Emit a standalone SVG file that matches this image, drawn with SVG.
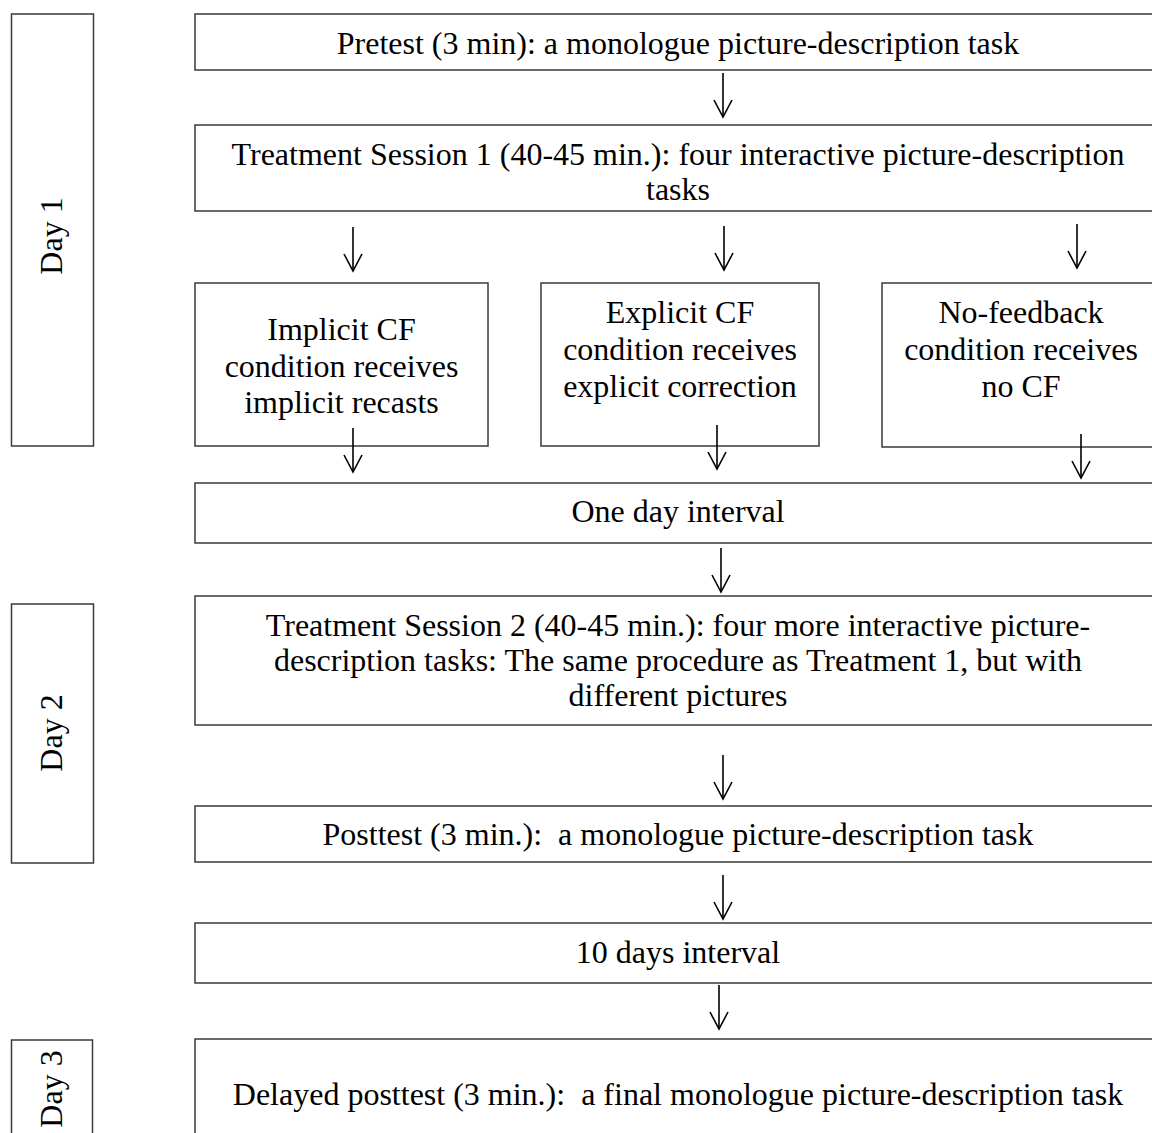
<svg xmlns="http://www.w3.org/2000/svg" width="1152" height="1133" viewBox="0 0 1152 1133">
<style>
.box{fill:#fff;stroke:#3a3a3a;stroke-width:1.5}
.t{font-family:"Liberation Serif","Times New Roman",serif;font-size:32px;fill:#000;text-anchor:middle;white-space:pre}
.c{stroke:#000;stroke-width:1.6;fill:none;marker-end:url(#ah)}
</style>
<defs>
<marker id="ah" markerUnits="userSpaceOnUse" markerWidth="22" markerHeight="22" viewBox="-1 -1 22 22" refX="17" refY="9" orient="auto">
<path d="M0,0 L17,9 L0,18" fill="none" stroke="#000" stroke-width="1.6"/>
</marker>
</defs>
<rect width="1152" height="1133" fill="#fff"/>
<g id="day1"><rect class="box" x="11.5" y="14" width="82" height="432"/><text class="t" transform="translate(62,236) rotate(-90)">Day 1</text></g>
<g id="day2"><rect class="box" x="11.5" y="604" width="82" height="259"/><text class="t" transform="translate(62,733) rotate(-90)">Day 2</text></g>
<g id="day3"><rect class="box" x="11.5" y="1040" width="81" height="120"/><text class="t" transform="translate(62,1089) rotate(-90)">Day 3</text></g>
<g id="pretest"><rect class="box" x="195" y="14" width="965" height="56"/><text class="t" x="678" y="54">Pretest (3 min): a monologue picture-description task</text></g>
<g id="treatment1"><rect class="box" x="195" y="125" width="965" height="86"/><text class="t" x="678" y="165">Treatment Session 1 (40-45 min.): four interactive picture-description</text><text class="t" x="678" y="200">tasks</text></g>
<g id="implicit"><rect class="box" x="195" y="283" width="293" height="163"/><text class="t" x="341.5" y="340">Implicit CF</text><text class="t" x="341.5" y="377">condition receives</text><text class="t" x="341.5" y="413">implicit recasts</text></g>
<g id="explicit"><rect class="box" x="541" y="283" width="278" height="163"/><text class="t" x="680" y="323">Explicit CF</text><text class="t" x="680" y="360">condition receives</text><text class="t" x="680" y="397">explicit correction</text></g>
<g id="nofeedback"><rect class="box" x="882" y="283" width="278" height="164"/><text class="t" x="1021" y="323">No-feedback</text><text class="t" x="1021" y="360">condition receives</text><text class="t" x="1021" y="397">no CF</text></g>
<g id="oneday"><rect class="box" x="195" y="483" width="965" height="60"/><text class="t" x="678" y="522">One day interval</text></g>
<g id="treatment2"><rect class="box" x="195" y="596" width="965" height="129"/><text class="t" x="678" y="636">Treatment Session 2 (40-45 min.): four more interactive picture-</text><text class="t" x="678" y="671">description tasks: The same procedure as Treatment 1, but with</text><text class="t" x="678" y="706">different pictures</text></g>
<g id="posttest"><rect class="box" x="195" y="806" width="965" height="56"/><text class="t" x="678" y="845">Posttest (3 min.):  a monologue picture-description task</text></g>
<g id="tendays"><rect class="box" x="195" y="923" width="965" height="60"/><text class="t" x="678" y="963">10 days interval</text></g>
<g id="delayed"><rect class="box" x="195" y="1039" width="965" height="120"/><text class="t" x="678" y="1105">Delayed posttest (3 min.):  a final monologue picture-description task</text></g>
<g id="connectors">
<line class="c" x1="723" y1="73" x2="723" y2="117"/>
<line class="c" x1="353" y1="227" x2="353" y2="271"/>
<line class="c" x1="724" y1="226" x2="724" y2="270"/>
<line class="c" x1="1077" y1="224" x2="1077" y2="268"/>
<line class="c" x1="353" y1="428" x2="353" y2="472"/>
<line class="c" x1="717" y1="425" x2="717" y2="469"/>
<line class="c" x1="1081" y1="434" x2="1081" y2="478"/>
<line class="c" x1="721" y1="548" x2="721" y2="592"/>
<line class="c" x1="723" y1="755" x2="723" y2="799"/>
<line class="c" x1="723" y1="875" x2="723" y2="919"/>
<line class="c" x1="719" y1="985" x2="719" y2="1029"/>
</g>
</svg>
